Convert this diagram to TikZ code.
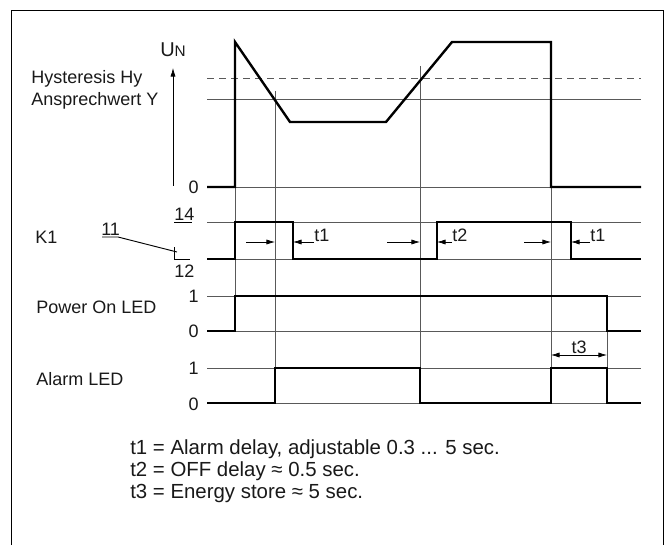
\documentclass[tikz,border=0pt]{standalone}
\usepackage{fontspec}
\setmainfont{Liberation Sans}
\usetikzlibrary{arrows.meta}
\begin{document}
\begin{tikzpicture}[x=0.75pt,y=0.75pt,yscale=-1,xscale=1,
	thinline/.style={draw=black!65,line width=0.5pt},
	sigline/.style={draw=black,line width=1.8pt,line join=miter},
	tarrow/.style={-{Latex[length=6.4pt,width=3.8pt]},draw=black,line width=0.5pt},
	lbl/.style={inner sep=0pt,text=black!90,font=\fontsize{13.5}{15}\selectfont},
	note/.style={inner sep=0pt,text=black!90,font=\fontsize{15.3}{18}\selectfont}]
	\useasboundingbox (0,0) rectangle (666,545);
	
	%Frame
	\draw [line width=0.6pt] (11,545) -- (11,10) -- (663,10) -- (663,545);
	
	%Grid lines
	\draw [thinline,dash pattern=on 5.2pt off 3.8pt] (207,78) -- (641,78);
	\foreach \yy in {99,187,222,259,296,331,368,403}
		\draw [thinline] (207,\yy) -- (641,\yy);
	\draw [thinline] (235,42) -- (235,296);
	\draw [thinline] (275,91) -- (275,403);
	\draw [thinline] (420,66) -- (420,403);
	\draw [thinline] (551,42) -- (551,403);
	\draw [thinline] (607,296) -- (607,403);
	
	%Axis U_N
	\draw [tarrow] (173,186) -- (173,68);
	\node (un) [lbl,anchor=base west] at (160,57) {\fontsize{15}{16}\selectfont U{\fontsize{11.5}{12}\selectfont N}};
	
	%Signals
	\draw [sigline] (207,187) -- (235,187) -- (235,42) -- (290,122) -- (386,122) -- (452,42) -- (551,42) -- (551,187) -- (641,187);
	\draw [sigline] (207,259) -- (235,259) -- (235,222) -- (293,222) -- (293,259) -- (437,259) -- (437,222) -- (571,222) -- (571,259) -- (641,259);
	\draw [sigline] (207,331) -- (235,331) -- (235,296) -- (607,296) -- (607,331) -- (641,331);
	\draw [sigline] (207,403) -- (275,403) -- (275,368) -- (420,368) -- (420,403) -- (551,403) -- (551,368) -- (607,368) -- (607,403) -- (641,403);
	
	%Contact symbol K1
	\node (c11) [lbl,anchor=base west] at (101,235) {11};
	\node (c14) [lbl,anchor=base west] at (174,220) {14};
	\node (c12) [lbl,anchor=base west] at (174,277) {12};
	\draw [line width=0.7pt] (102,237) -- (118,237) -- (177,252);
	\draw [line width=0.7pt] (174,247) -- (174,259) -- (190,259);
	\draw [line width=0.7pt] (174,222) -- (192,222);
	
	% Text Node
	\node (hy) [lbl,anchor=base west] at (31,84) {Hysteresis Hy};
	\node (ay) [lbl,anchor=base west] at (31,106) {Ansprechwert Y};
	\node (k1) [lbl,anchor=base west] at (35,243) {K1};
	\node (pled) [lbl,anchor=base west] at (36,313) {Power On LED};
	\node (aled) [lbl,anchor=base west] at (36,385) {Alarm LED};
	
	% Levels
	\node (lvu) [lbl,anchor=east] at (199,187) {0};
	\node (lvpa) [lbl,anchor=east] at (199,296) {1};
	\node (lvpb) [lbl,anchor=east] at (199,331) {0};
	\node (lvaa) [lbl,anchor=east] at (199,368) {1};
	\node (lvab) [lbl,anchor=east] at (199,404) {0};
	
	%Delay arrows
	\draw [tarrow] (246,242) -- (275,242);
	\node (tonea) [lbl,anchor=south west] at (314,242) {t1};
	\draw [tarrow] (tonea.south west) -- (293,242);
	\draw [tarrow] (387,242) -- (420,242);
	\node (ttwo) [lbl,anchor=south west] at (452,242) {t2};
	\draw [tarrow] (ttwo.south west) -- (437,242);
	\draw [tarrow] (524,242) -- (551,242);
	\node (toneb) [lbl,anchor=south west] at (590,242) {t1};
	\draw [tarrow] (toneb.south west) -- (571,242);
	\node (tthree) [lbl,anchor=base] at (579,353) {t3};
	\draw [tarrow,{Latex[length=6.4pt,width=3.8pt]}-{Latex[length=6.4pt,width=3.8pt]}] (551,355) -- (607,355);
	
	% Notes
	\node (nta) [note,anchor=base west] at (130,454) {t1 = Alarm delay, adjustable 0.3 ... 5 sec.};
	\node (ntb) [note,anchor=base west] at (130,476) {t2 = OFF delay ≈ 0.5 sec.};
	\node (ntc) [note,anchor=base west] at (130,498) {t3 = Energy store ≈ 5 sec.};
\end{tikzpicture}
\end{document}
